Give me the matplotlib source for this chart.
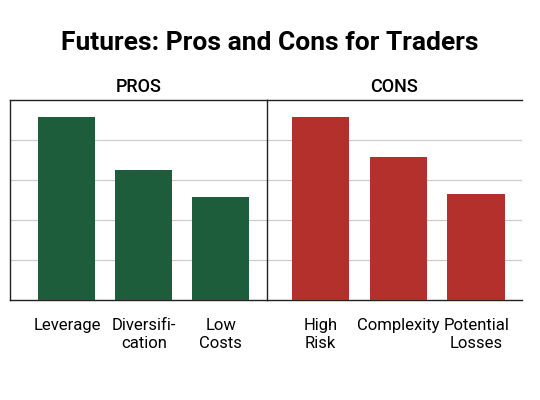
import matplotlib.pyplot as plt

plt.rcParams['font.family'] = ['Roboto', 'DejaVu Sans']

pros_labels = ['Leverage', 'Diversifi-\ncation', 'Low\nCosts']
pros_values = [4.58, 3.25, 2.58]
cons_labels = ['High\nRisk', 'Complexity', 'Potential\nLosses']
cons_values = [4.58, 3.58, 2.65]

green = '#1e5d3b'
red = '#b3302d'

fig = plt.figure(figsize=(5.4, 4), dpi=100)
fig.text(0.5, 0.893, 'Futures: Pros and Cons for Traders', ha='center', va='center',
         fontsize=19, fontweight='bold')

ax1 = fig.add_axes([0.0185, 0.25, 0.4755, 0.5])
ax2 = fig.add_axes([0.494, 0.25, 0.473, 0.5])

for ax, labels, vals, col, title, xl in [
        (ax1, pros_labels, pros_values, green, 'PROS', (-0.74, 2.6)),
        (ax2, cons_labels, cons_values, red, 'CONS', (-0.69, 2.59))]:
    x = range(len(vals))
    ax.bar(x, vals, width=0.74, color=col, zorder=3)
    ax.set_xlim(*xl)
    ax.set_ylim(0, 5)
    ax.set_yticks([1, 2, 3, 4])
    ax.set_yticklabels([])
    ax.tick_params(axis='y', length=0)
    ax.grid(axis='y', color='#cccccc', lw=0.9, zorder=0)
    ax.set_xticks(list(x))
    ax.set_xticklabels(labels, fontsize=12, linespacing=1.25)
    ax.tick_params(axis='x', length=0, pad=13)
    ax.spines['right'].set_visible(False)
    for s in ['left', 'bottom', 'top']:
        ax.spines[s].set_color('#222222')
        ax.spines[s].set_linewidth(1.0)
    ax.set_title(title, fontsize=13, fontweight='medium', pad=6)

fig.savefig('out.png', dpi=100)
